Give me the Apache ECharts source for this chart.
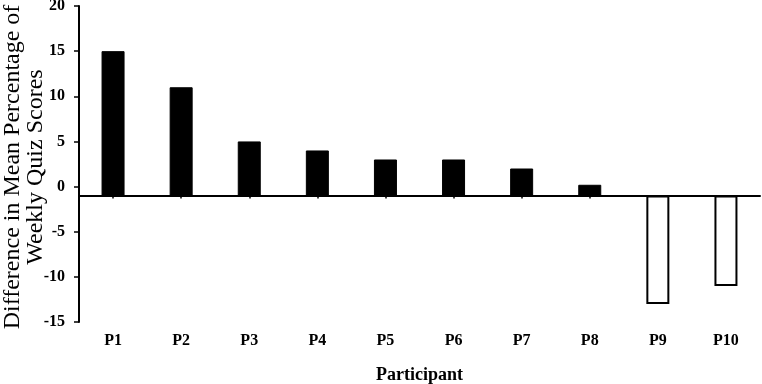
<!DOCTYPE html>
<html>
<head>
<meta charset="utf-8">
<script src="https://cdn.jsdelivr.net/npm/echarts@6/dist/echarts.min.js"></script>
<style>
html,body{margin:0;padding:0;background:#fff;}
#chart{width:762px;height:384px;}
</style>
</head>
<body>
<div id="chart"></div>
<script>
const categories = ['P1','P2','P3','P4','P5','P6','P7','P8','P9','P10'];
const values = [15, 11, 5, 4, 3, 3, 2, 0.2, -13, -11];
const yTicks = { min: -15, max: 20, interval: 5 };
const baseline = -1;

const FONT = 'Liberation Serif';
const chart = echarts.init(document.getElementById('chart'));

const barData = values.map(v => ({
  value: v - baseline,
  itemStyle: v >= 0
    ? { color: '#000', borderColor: '#000', borderWidth: 1 }
    : { color: '#fff', borderColor: '#000', borderWidth: 2 }
}));

chart.setOption({
  animation: false,
  backgroundColor: '#fff',
  grid: { left: 79, right: 2, top: 6, bottom: 62, containLabel: false, outerBoundsMode: 'none' },
  xAxis: [
    {
      type: 'category',
      data: categories,
      position: 'bottom',
      axisLine: { show: true, onZero: true, onZeroAxisIndex: 1, lineStyle: { color: '#000', width: 2 } },
      axisTick: { show: true, alignWithLabel: true, length: 3, lineStyle: { color: '#000', width: 1.5 } },
      axisLabel: { show: false },
      splitLine: { show: false }
    },
    {
      type: 'category',
      data: categories,
      position: 'bottom',
      axisLine: { show: false, onZero: false },
      axisTick: { show: false },
      axisLabel: { show: true, margin: 11, fontFamily: FONT, fontWeight: 'bold', fontSize: 16, color: '#000' },
      name: 'Participant',
      nameLocation: 'middle',
      nameGap: 44,
      nameMoveOverlap: false,
      nameTextStyle: { fontFamily: FONT, fontWeight: 'bold', fontSize: 18, color: '#000' },
      splitLine: { show: false }
    }
  ],
  yAxis: [
    {
      type: 'value',
      min: yTicks.min,
      max: yTicks.max,
      interval: yTicks.interval,
      axisLine: { show: true, onZero: false, lineStyle: { color: '#000', width: 2 } },
      axisTick: { show: true, length: 5, lineStyle: { color: '#000', width: 1.5 } },
      axisLabel: { margin: 14, fontFamily: FONT, fontWeight: 'bold', fontSize: 16, color: '#000' },
      splitLine: { show: false },
      name: 'Difference in Mean Percentage of\nWeekly Quiz Scores',
      nameLocation: 'middle',
      nameRotate: 90,
      nameGap: 32,
      nameMoveOverlap: false,
      nameTextStyle: { fontFamily: FONT, fontSize: 24, lineHeight: 23, color: '#000', padding: [0, 6, 0, 0] }
    },
    {
      type: 'value',
      show: false,
      min: yTicks.min - baseline,
      max: yTicks.max - baseline,
      splitLine: { show: false }
    }
  ],
  series: [
    {
      type: 'bar',
      xAxisIndex: 0,
      yAxisIndex: 1,
      barWidth: 23,
      data: barData
    }
  ]
});
</script>
</body>
</html>
